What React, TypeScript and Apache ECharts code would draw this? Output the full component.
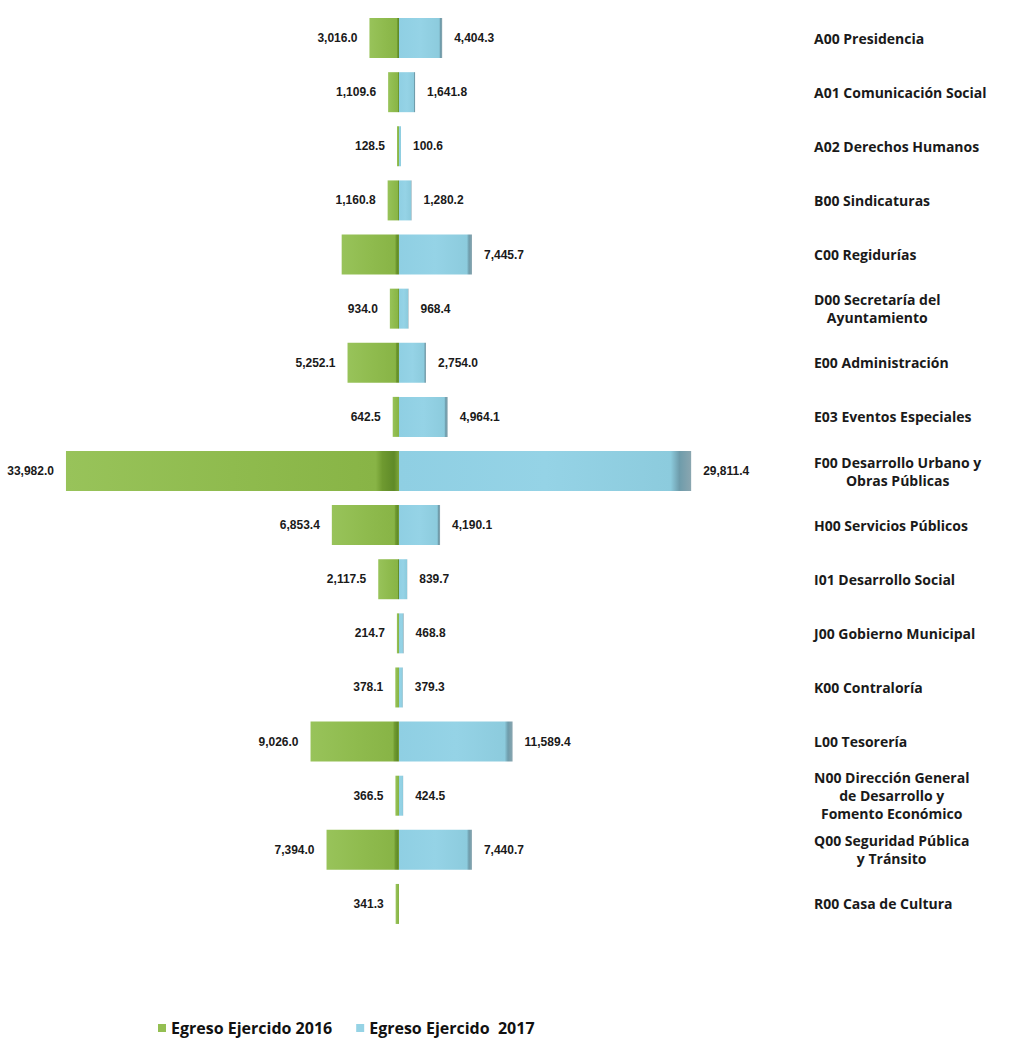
import React, { useEffect, useRef } from "react";
import * as echarts from "echarts";

const categories = [
  "A00 Presidencia",
  "A01 Comunicación Social",
  "A02 Derechos Humanos",
  "B00 Sindicaturas",
  "C00 Regidurías",
  "D00 Secretaría del\nAyuntamiento",
  "E00 Administración",
  "E03 Eventos Especiales",
  "F00 Desarrollo Urbano y\nObras Públicas",
  "H00 Servicios Públicos",
  "I01 Desarrollo Social",
  "J00 Gobierno Municipal",
  "K00 Contraloría",
  "L00 Tesorería",
  "N00 Dirección General\nde Desarrollo y\nFomento Económico",
  "Q00 Seguridad Pública\ny Tránsito",
  "R00 Casa de Cultura",
];

const egreso2016 = [3016.0, 1109.6, 128.5, 1160.8, 5850, 934.0, 5252.1, 642.5, 33982.0, 6853.4, 2117.5, 214.7, 378.1, 9026.0, 366.5, 7394.0, 341.3];
// value labels hidden in the reference
const hidden2016 = [4];
const egreso2017 = [4404.3, 1641.8, 100.6, 1280.2, 7445.7, 968.4, 2754.0, 4964.1, 29811.4, 4190.1, 839.7, 468.8, 379.3, 11589.4, 424.5, 7440.7, null];

const seriesNames = ["Egreso Ejercido 2016", "Egreso Ejercido  2017"];

const fmt = (v: number) =>
  Math.abs(v).toLocaleString("en-US", { minimumFractionDigits: 1, maximumFractionDigits: 1 });

export default function App() {
  const ref = useRef<HTMLDivElement>(null);
  useEffect(() => {
    document.body.style.margin = "0";
    const chart = echarts.init(ref.current!, null, { renderer: "svg" });
    const greenGrad = new echarts.graphic.LinearGradient(0, 0, 1, 0, [
      { offset: 0, color: "#98c35a" },
      { offset: 0.5, color: "#8fbb4e" },
      { offset: 0.93, color: "#88b446" },
      { offset: 0.95, color: "#6f9a30" },
      { offset: 0.985, color: "#5f8a28" },
      { offset: 1, color: "#7ea63a" },
    ]);
    const blueGrad = new echarts.graphic.LinearGradient(0, 0, 1, 0, [
      { offset: 0, color: "#8fcfe3" },
      { offset: 0.5, color: "#95d3e6" },
      { offset: 0.93, color: "#8ccbdd" },
      { offset: 0.96, color: "#6e9cab" },
      { offset: 1, color: "#8aa6b0" },
    ]);
    const labelFont = {
      fontFamily: "Liberation Sans, Arial, sans-serif",
      fontWeight: "bold" as const,
      fontSize: 12,
      color: "#1a1a1a",
    };
    chart.setOption({
      animation: false,
      backgroundColor: "#ffffff",
      grid: { left: 56, right: 267, top: 11, height: 920, containLabel: false },
      legend: {
        bottom: 3,
        left: 153,
        itemWidth: 8,
        itemHeight: 8,
        itemGap: 24,
        icon: "rect",
        data: [
          { name: seriesNames[0], itemStyle: { color: "#94bf52" } },
          { name: seriesNames[1], itemStyle: { color: "#96d3e5" } },
        ],
        textStyle: { fontFamily: "Open Sans, sans-serif", fontWeight: "bold", fontSize: 16, color: "#111" },
      },
      xAxis: {
        type: "value",
        min: -35000,
        max: 35000,
        show: false,
        splitLine: { show: false },
      },
      yAxis: {
        type: "category",
        data: categories,
        inverse: true,
        position: "right",
        axisLine: { show: false },
        axisTick: { show: false },
        axisLabel: {
          margin: 72,
          align: "left",
          formatter: (v: string) =>
            v
              .split("\n")
              .map((l) => `{c|${l}}`)
              .join("\n"),
          rich: {
            c: {
              align: "center",
              fontFamily: "Open Sans, sans-serif",
              fontWeight: "bold",
              fontSize: 14,
              lineHeight: 18,
              color: "#1a1a1a",
            },
          },
        },
      },
      series: [
        {
          name: seriesNames[0],
          type: "bar",
          stack: "total",
          barWidth: 40,
          barMinHeight: 2,
          itemStyle: { color: greenGrad },
          label: {
            show: true,
            position: "left",
            distance: 12,
            ...labelFont,
            formatter: (p: any) => fmt(p.value),
          },
          data: egreso2016.map((v, i) => ({
            value: -v,
            label: hidden2016.includes(i) ? { show: false } : undefined,
          })),
        },
        {
          name: seriesNames[1],
          type: "bar",
          stack: "total",
          barWidth: 40,
          barMinHeight: 2,
          itemStyle: { color: blueGrad },
          label: {
            show: true,
            position: "right",
            distance: 12,
            ...labelFont,
            formatter: (p: any) => fmt(p.value),
          },
          data: egreso2017.map((v) => (v == null ? null : v)),
        },
      ],
    });
    return () => chart.dispose();
  }, []);
  return <div ref={ref} style={{ width: 1009, height: 1044 }} />;
}
